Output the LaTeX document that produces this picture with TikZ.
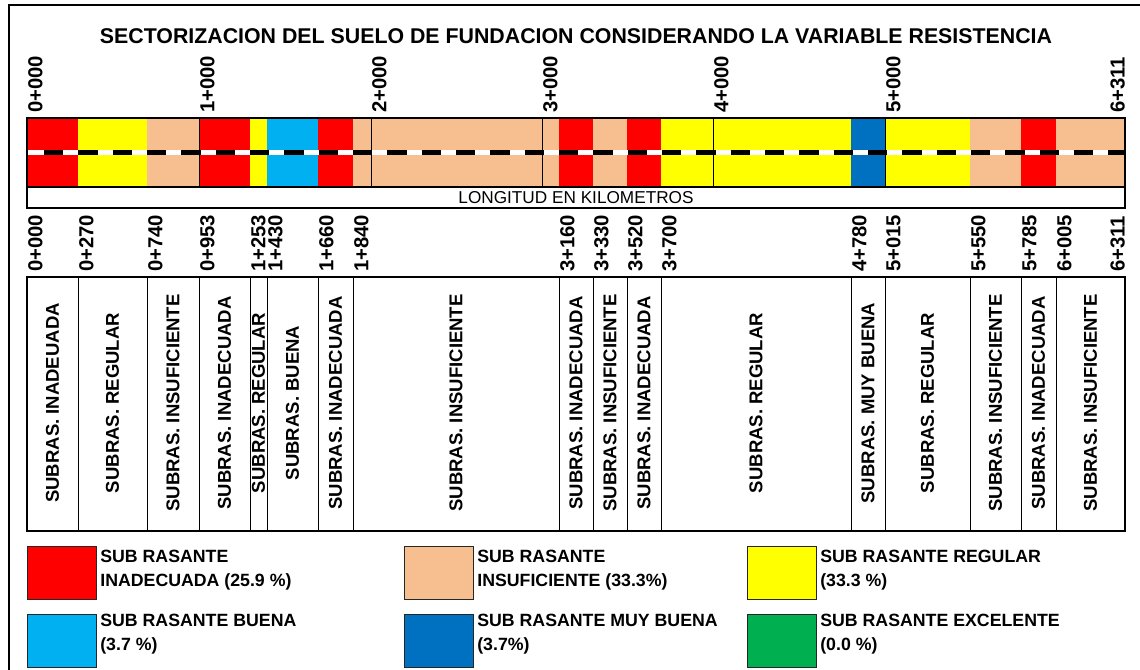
\documentclass[tikz,border=0pt]{standalone}
\usepackage{fontspec}
\setmainfont{Liberation Sans}
\usepackage{tikz}
\usetikzlibrary{positioning}
\usepackage{xcolor}
\definecolor{inadec}{HTML}{FF0000}
\definecolor{insuf}{HTML}{F7BE90}
\definecolor{regul}{HTML}{FFFF00}
\definecolor{buena}{HTML}{00B0F0}
\definecolor{muybuena}{HTML}{0070C0}
\definecolor{excel}{HTML}{00B050}

\begin{document}
\begin{tikzpicture}[x=0.75pt, y=-0.75pt,
    kmlabel/.style={rotate=90, inner sep=0pt, font=\fontsize{15.2}{16}\selectfont\bfseries},
    sublabel/.style={rotate=90, inner sep=0pt, font=\fontsize{13.9}{15}\selectfont\bfseries},
    legbox/.style={draw=black!85, line width=0.8pt, inner sep=0pt, minimum width=51.75pt, minimum height=40pt, anchor=north west},
    legtext/.style={anchor=base west, inner sep=0pt, align=left, font=\fontsize{13.3}{18}\selectfont\bfseries}]
    \useasboundingbox (0,0) rectangle (1140,670);

    % Outer frame (cut at right and bottom)
    \draw[line width=2.2pt] (9,670) -- (9,5) -- (1140,5);

    % Title
    \node[font=\fontsize{16}{16}\selectfont\bfseries, inner sep=0pt] (title) at (576,36)
        {SECTORIZACION DEL SUELO DE FUNDACION CONSIDERANDO LA VARIABLE RESISTENCIA};

    % Coloured strip of the sectors
    \foreach \a/\b/\c in {27/78/inadec, 78/147/regul, 147/199/insuf, 199/250/inadec, 250/267/regul,
        267/318/buena, 318/353/inadec, 353/559/insuf, 559/593/inadec, 593/627/insuf, 627/661/inadec,
        661/851/regul, 851/885/muybuena, 885/970/regul, 970/1021/insuf, 1021/1056/inadec, 1056/1125/insuf}
        \fill[\c] (\a,118) rectangle (\b,187);

    % Axis line, white with black dashes
    \draw[white, line width=3.75pt] (27,153) -- (1125,153);
    \draw[black, line width=3.75pt, dash pattern=on 14.5pt off 11.25pt] (44,153) -- (1125,153);

    % Kilometre marks inside the strip
    \foreach \x in {199,371,542,713,885}
        \draw[line width=0.75pt] (\x,118) -- (\x,187);
    \draw[line width=1.3pt] (27,118) rectangle (1125,187);

    % Kilometre labels above the strip
    \foreach \x/\t [count=\i] in {27/0+000, 199/1+000, 371/2+000, 542/3+000, 713/4+000, 885/5+000}
        \node[kmlabel, anchor=north west] (km\i) at (\x+1,113) {\t};
    \node[kmlabel, anchor=south west] (kmend) at (1125,113) {6+311};

    % Scale caption
    \draw[line width=0.9pt] (27,187) rectangle (1125,208);
    \node[font=\fontsize{12.9}{14}\selectfont, inner sep=0pt] (longitud) at (576,198) {LONGITUD EN KILOMETROS};

    % Progressive labels of the sector limits
    \foreach \x/\t [count=\i] in {27/0+000, 78/0+270, 147/0+740, 199/0+953, 250/1+253, 267/1+430,
        318/1+660, 353/1+840, 559/3+160, 593/3+330, 627/3+520, 661/3+700, 851/4+780, 885/5+015,
        970/5+550, 1021/5+785, 1056/6+005}
        \node[kmlabel, anchor=north west] (prog\i) at (\x+1,272) {\t};
    \node[kmlabel, anchor=south west] (progend) at (1125,272) {6+311};

    % Table of sectors
    \foreach \a/\b/\t [count=\i] in {27/78/SUBRAS. INADEUADA, 78/147/SUBRAS. REGULAR,
        147/199/SUBRAS. INSUFICIENTE, 199/250/SUBRAS. INADECUADA, 250/267/SUBRAS. REGULAR,
        267/318/SUBRAS. BUENA, 318/353/SUBRAS. INADECUADA, 353/559/SUBRAS. INSUFICIENTE,
        559/593/SUBRAS. INADECUADA, 593/627/SUBRAS. INSUFICIENTE, 627/661/SUBRAS. INADECUADA,
        661/851/SUBRAS. REGULAR, 851/885/SUBRAS. MUY BUENA, 885/970/SUBRAS. REGULAR,
        970/1021/SUBRAS. INSUFICIENTE, 1021/1056/SUBRAS. INADECUADA, 1056/1125/SUBRAS. INSUFICIENTE}
    {
        \draw[line width=0.75pt] (\a,277) -- (\a,531);
        \node[sublabel] (sec\i) at ({(\a+\b)/2},403) {\t};
    }
    \draw[line width=1.5pt] (27,277) rectangle (1125,531);

    % Legend
    \node[legbox, fill=inadec] (legInadec) at (27,546) {};
    \node[legtext] (txtInadec) at ([xshift=2.25pt, yshift=-30pt]legInadec.north east)
        {SUB RASANTE\\INADECUADA (25.9 \%)};
    \node[legbox, fill=insuf] (legInsuf) at (404,546) {};
    \node[legtext] (txtInsuf) at ([xshift=2.25pt, yshift=-30pt]legInsuf.north east)
        {SUB RASANTE\\INSUFICIENTE (33.3\%)};
    \node[legbox, fill=regul] (legRegul) at (747,546) {};
    \node[legtext] (txtRegul) at ([xshift=2.25pt, yshift=-30pt]legRegul.north east)
        {SUB RASANTE REGULAR\\(33.3 \%)};

    \node[legbox, fill=buena] (legBuena) at (27,614) {};
    \node[legtext] (txtBuena) at ([xshift=2.25pt, yshift=-27pt]legBuena.north east)
        {SUB RASANTE BUENA\\(3.7 \%)};
    \node[legbox, fill=muybuena] (legMuy) at (404,614) {};
    \node[legtext] (txtMuy) at ([xshift=2.25pt, yshift=-27pt]legMuy.north east)
        {SUB RASANTE MUY BUENA\\(3.7\%)};
    \node[legbox, fill=excel] (legExcel) at (747,614) {};
    \node[legtext] (txtExcel) at ([xshift=2.25pt, yshift=-27pt]legExcel.north east)
        {SUB RASANTE EXCELENTE\\(0.0 \%)};
\end{tikzpicture}
\end{document}
